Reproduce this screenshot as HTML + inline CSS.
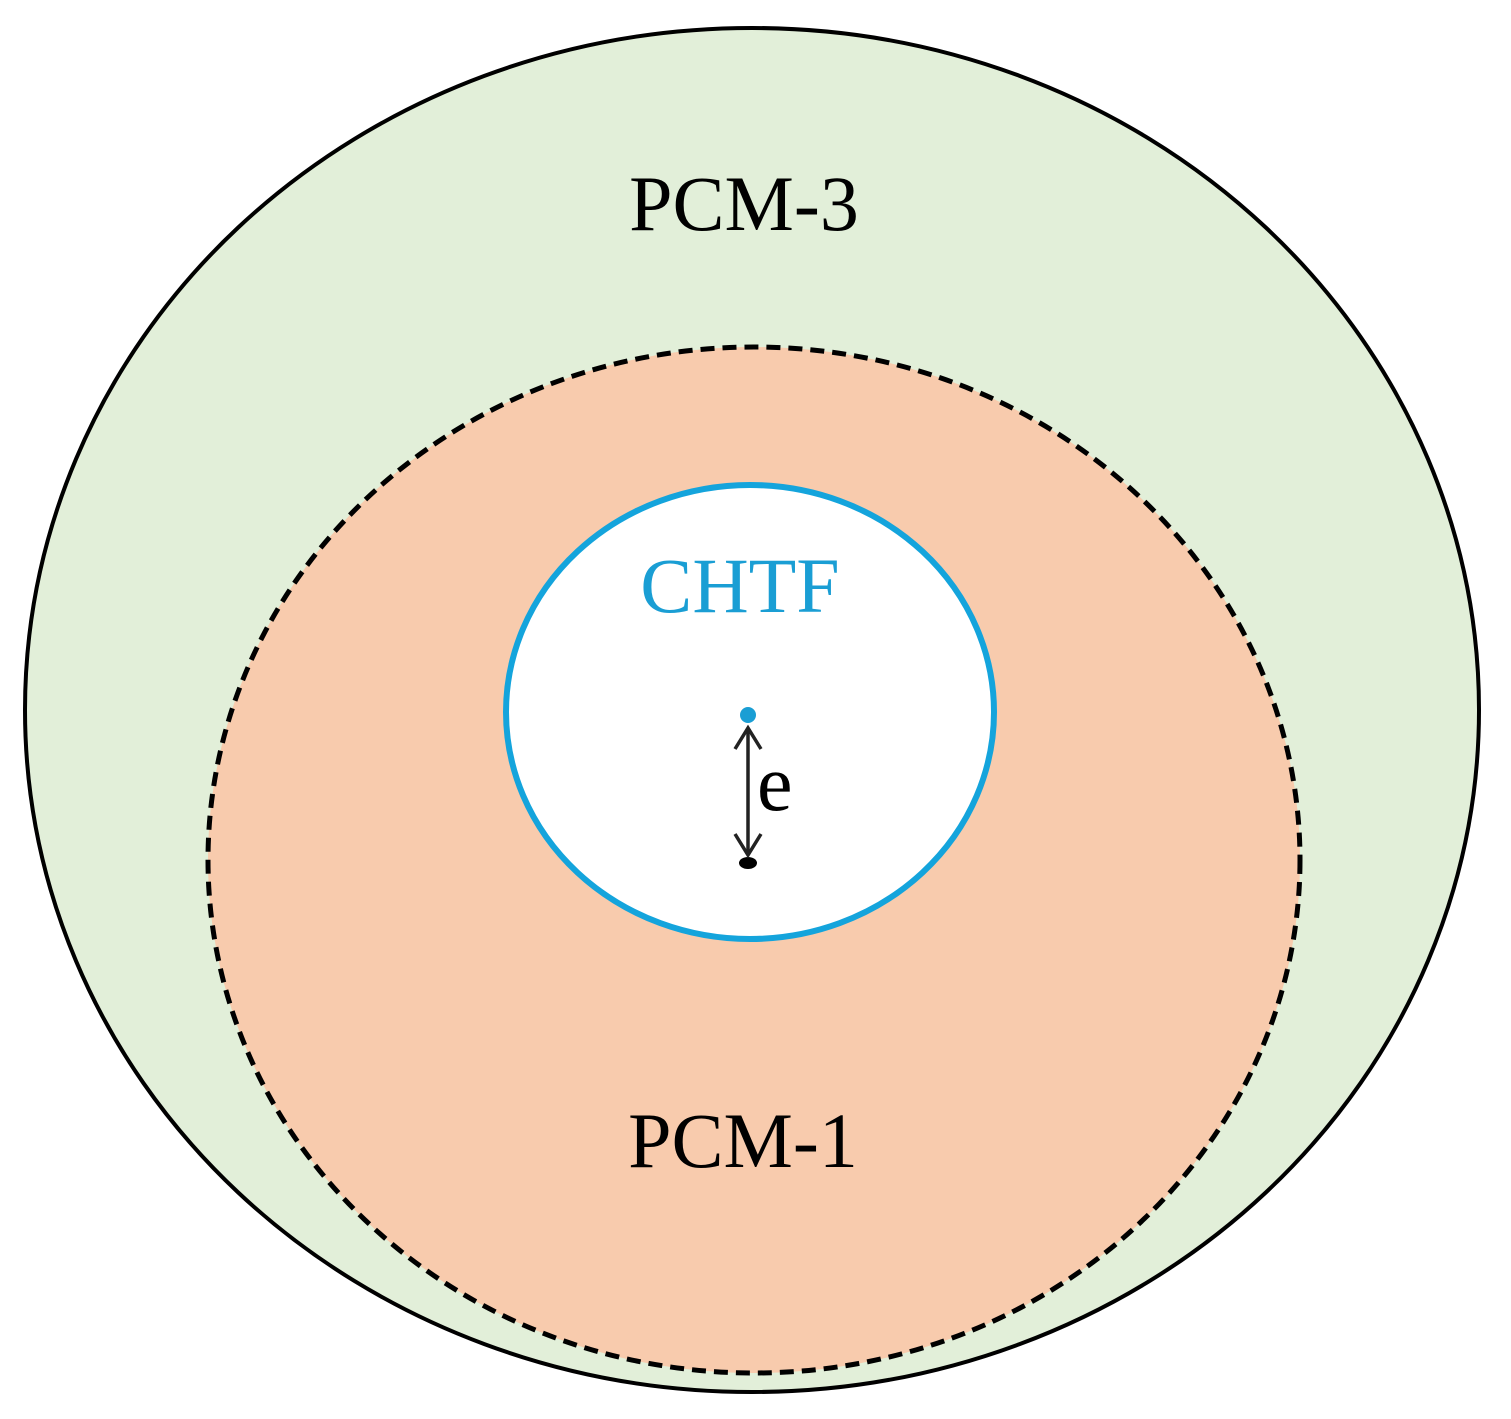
<!DOCTYPE html>
<html><head><meta charset="utf-8"><style>html,body{margin:0;padding:0;background:#fff}svg{display:block}</style></head>
<body>
<svg width="1511" height="1419" viewBox="0 0 1511 1419" xmlns="http://www.w3.org/2000/svg">
<ellipse cx="752" cy="710" rx="727" ry="682" fill="#e2efd9" stroke="#000" stroke-width="4"/>
<ellipse cx="754" cy="860" rx="546" ry="513" fill="#f8cbad" stroke="#000" stroke-width="5" stroke-dasharray="14,8"/>
<ellipse cx="750" cy="712" rx="244" ry="227" fill="#fff" stroke="#14a4dc" stroke-width="6"/>
<text x="744" y="230" font-family="Liberation Serif, serif" font-size="78" text-anchor="middle" fill="#000">PCM-3</text>
<text x="740" y="612" font-family="Liberation Serif, serif" font-size="78" text-anchor="middle" fill="#1a9ed4">CHTF</text>
<text x="743" y="1167" font-family="Liberation Serif, serif" font-size="78" text-anchor="middle" fill="#000">PCM-1</text>
<circle cx="748" cy="715" r="8" fill="#1a9ed4"/>
<ellipse cx="748" cy="863" rx="9" ry="6" fill="#000"/>
<line x1="748" y1="728" x2="748" y2="855" stroke="#222" stroke-width="3.5"/>
<polyline points="735,749 748,728 761,749" fill="none" stroke="#222" stroke-width="3.5"/>
<polyline points="735,834 748,855 761,834" fill="none" stroke="#222" stroke-width="3.5"/>
<text x="757" y="810" font-family="Liberation Serif, serif" font-size="80" fill="#000">e</text>
</svg>
</body></html>
